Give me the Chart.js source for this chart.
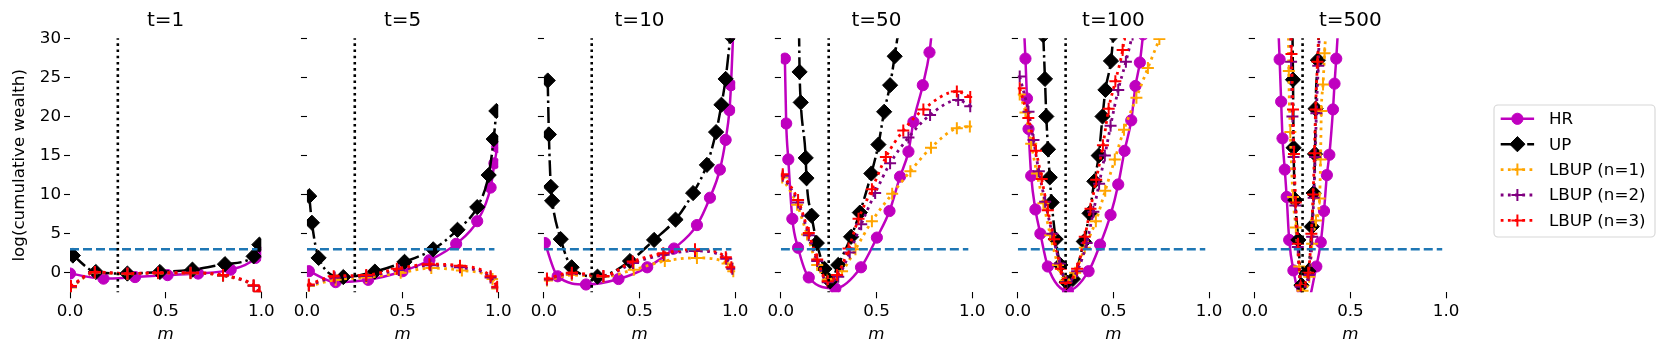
<!DOCTYPE html>
<html>
<head>
<meta charset="utf-8">
<script src="https://cdn.jsdelivr.net/npm/chart.js@4.4.1/dist/chart.umd.min.js"></script>
<style>
  html, body { margin: 0; padding: 0; background: #fff; }
  #wrap { position: relative; width: 1661px; height: 357px; overflow: hidden; }
  #wrap canvas { position: absolute; top: 0; }
</style>
</head>
<body>
<div id="wrap"></div>
<script>
// ---- data: [m, log(cumulative wealth)] ----
const times = [1, 5, 10, 50, 100, 500];
const seriesNames = ['HR', 'UP', 'LBUP (n=1)', 'LBUP (n=2)', 'LBUP (n=3)'];
const xTicks = [0, 0.5, 1];
const xTickLabels = ['0.0', '0.5', '1.0'];
const yTicks = [0, 5, 10, 15, 20, 25, 30];
const baselineM = [0, 0.98];
const baselineValue = 3.0;
const optimalM = 0.25;

const hr_t1 = [[0.0,-0.1],[0.175,-0.75],[0.34,-0.55],[0.51,-0.3],[0.67,-0.1],[0.84,0.4],[0.97,1.9],[0.99,2.6]];
const up_t1 = [[0.015,2.2],[0.135,0.1],[0.30,-0.1],[0.47,0.1],[0.64,0.4],[0.81,1.1],[0.96,2.1],[0.99,3.6]];
const lb1_t1 = [[0.005,-1.9],[0.13,0.0],[0.30,-0.15],[0.46,-0.05],[0.63,-0.05],[0.80,-0.4],[0.96,-1.7],[0.99,-2.5]];
const lb2_t1 = [[0.005,-1.8],[0.13,0.05],[0.30,-0.1],[0.46,0.0],[0.63,0.0],[0.80,-0.35],[0.96,-1.65],[0.99,-2.45]];
const lb3_t1 = [[0.005,-1.7],[0.13,0.1],[0.30,-0.1],[0.46,0.0],[0.63,0.0],[0.80,-0.3],[0.96,-1.6],[0.99,-2.4]];

const hr_t5 = [[0.01,0.2],[0.15,-1.2],[0.32,-0.9],[0.50,0.2],[0.64,1.6],[0.78,3.7],[0.89,6.6],[0.96,10.9],[0.98,14.0],[0.995,16.1]];
const up_t5 = [[0.012,9.8],[0.026,6.4],[0.061,1.9],[0.19,-0.55],[0.355,0.15],[0.51,1.4],[0.66,3.0],[0.787,5.5],[0.89,8.4],[0.95,12.5],[0.976,17.1],[0.99,20.7]];
const lb1_t5 = [[0.01,-1.7],[0.15,-0.9],[0.31,-0.6],[0.49,0.0],[0.65,0.6],[0.81,0.3],[0.97,-0.8],[0.995,-2.0]];
const lb2_t5 = [[0.01,-1.6],[0.145,-0.6],[0.31,-0.4],[0.48,0.35],[0.645,0.95],[0.80,0.7],[0.96,-0.6],[0.995,-1.9]];
const lb3_t5 = [[0.01,-1.5],[0.14,-0.45],[0.31,-0.3],[0.47,0.5],[0.64,1.1],[0.80,0.9],[0.96,-0.45],[0.995,-1.8]];

const hr_t10 = [[0.005,3.8],[0.072,-0.45],[0.22,-1.5],[0.39,-0.8],[0.54,0.7],[0.68,3.1],[0.80,6.1],[0.868,9.6],[0.92,13.2],[0.95,17.0],[0.97,20.8],[0.978,24.0],[0.99,31.0]];
const up_t10 = [[0.02,24.6],[0.026,17.7],[0.036,11.0],[0.043,9.2],[0.088,4.3],[0.145,0.7],[0.28,-0.5],[0.45,1.5],[0.576,4.2],[0.688,6.8],[0.78,10.2],[0.852,13.8],[0.90,18.0],[0.928,21.5],[0.95,24.8],[0.975,30.3]];
const lb1_t10 = [[0.016,-1.0],[0.146,-0.3],[0.311,-0.5],[0.47,0.4],[0.632,1.5],[0.80,1.9],[0.96,1.2],[0.99,0.2]];
const lb2_t10 = [[0.016,-0.85],[0.146,-0.1],[0.311,-0.45],[0.466,1.25],[0.626,2.3],[0.79,2.8],[0.953,1.8],[0.985,0.5]];
const lb3_t10 = [[0.016,-0.75],[0.146,0.0],[0.311,-0.4],[0.464,1.45],[0.624,2.5],[0.79,3.0],[0.951,2.0],[0.98,0.7]];

const hr_t50 = [[0.021,27.4],[0.028,19.1],[0.039,14.5],[0.06,6.9],[0.09,3.2],[0.146,-0.6],[0.285,-2.0],[0.419,0.7],[0.502,4.5],[0.568,7.9],[0.623,12.3],[0.667,15.5],[0.693,19.3],[0.742,24.0],[0.777,28.2],[0.79,31.0]];
const up_t50 = [[0.095,31.0],[0.098,25.7],[0.104,21.8],[0.13,14.7],[0.134,12.1],[0.161,7.3],[0.188,3.8],[0.228,0.5],[0.258,-1.1],[0.30,1.0],[0.367,4.6],[0.413,7.7],[0.473,12.7],[0.51,16.4],[0.54,20.6],[0.571,24.0],[0.595,27.7],[0.615,31.0]];
const lb1_t50 = [[0.007,12.2],[0.085,8.7],[0.137,4.9],[0.19,1.0],[0.245,-0.9],[0.32,0.2],[0.39,3.0],[0.476,6.6],[0.582,10.1],[0.677,13.0],[0.785,16.0],[0.92,18.5],[0.988,18.7]];
const lb2_t50 = [[0.01,12.4],[0.09,9.0],[0.146,4.8],[0.19,1.5],[0.245,-1.2],[0.30,-0.5],[0.36,2.6],[0.42,6.2],[0.493,10.2],[0.571,14.0],[0.667,17.3],[0.78,20.2],[0.927,22.1],[0.99,21.3]];
const lb3_t50 = [[0.01,12.6],[0.09,9.3],[0.146,5.1],[0.19,1.7],[0.245,-1.1],[0.294,-0.3],[0.354,3.1],[0.406,6.9],[0.476,10.7],[0.549,14.8],[0.64,18.2],[0.745,20.9],[0.92,23.2],[0.99,22.5]];

const hr_t100 = [[0.033,31.0],[0.04,27.4],[0.048,22.3],[0.056,18.4],[0.07,12.4],[0.092,8.1],[0.118,5.0],[0.157,0.8],[0.262,-2.3],[0.37,0.2],[0.43,3.6],[0.485,7.4],[0.525,11.3],[0.558,15.6],[0.593,19.5],[0.615,23.9],[0.638,26.9],[0.655,30.5]];
const up_t100 = [[0.133,30.4],[0.142,24.8],[0.149,20.0],[0.158,15.8],[0.167,12.2],[0.177,9.0],[0.198,4.3],[0.222,1.0],[0.255,-1.2],[0.288,-0.8],[0.345,4.0],[0.375,7.6],[0.40,11.7],[0.423,15.0],[0.443,20.0],[0.458,23.4],[0.487,27.1],[0.50,30.5]];
const lb1_t100 = [[0.01,22.8],[0.04,20.5],[0.07,16.5],[0.10,12.7],[0.134,8.9],[0.17,4.8],[0.21,1.0],[0.25,-1.0],[0.30,0.0],[0.35,3.2],[0.408,6.6],[0.457,10.5],[0.507,14.5],[0.555,18.3],[0.62,22.4],[0.68,26.2],[0.74,29.9]];
const lb2_t100 = [[0.01,25.1],[0.056,20.6],[0.082,17.0],[0.11,13.0],[0.143,9.1],[0.18,5.0],[0.22,1.2],[0.255,-1.2],[0.31,0.2],[0.36,3.8],[0.395,7.8],[0.425,11.4],[0.455,15.0],[0.485,18.8],[0.525,23.4],[0.565,27.0],[0.60,30.5]];
const lb3_t100 = [[0.01,23.6],[0.055,19.8],[0.095,15.6],[0.125,12.0],[0.157,8.0],[0.19,4.3],[0.225,0.5],[0.25,-1.3],[0.31,0.5],[0.35,4.6],[0.38,8.2],[0.41,11.9],[0.445,16.3],[0.475,21.0],[0.51,24.5],[0.548,28.5],[0.56,30.5]];

const hr_t500 = [[0.124,31.0],[0.13,27.3],[0.138,21.9],[0.145,17.2],[0.157,13.2],[0.167,9.7],[0.18,4.2],[0.202,0.3],[0.265,-4.5],[0.322,0.8],[0.345,3.9],[0.362,7.9],[0.377,12.5],[0.39,15.1],[0.409,20.9],[0.417,24.2],[0.426,27.4],[0.435,31.0]];
const up_t500 = [[0.197,31.0],[0.2,24.7],[0.203,16.0],[0.212,9.3],[0.228,4.2],[0.244,-1.6],[0.28,0.2],[0.298,5.9],[0.308,10.2],[0.315,15.2],[0.318,21.0],[0.33,27.2],[0.335,31.0]];
const lb1_t500 = [[0.176,31.0],[0.178,25.8],[0.186,18.0],[0.2,9.7],[0.215,5.8],[0.232,0.8],[0.25,-2.3],[0.285,-0.5],[0.30,3.7],[0.32,6.7],[0.339,9.5],[0.344,14.5],[0.348,20.7],[0.357,24.1],[0.365,28.1],[0.372,31.0]];
const lb2_t500 = [[0.188,31.0],[0.19,27.0],[0.197,20.0],[0.203,14.8],[0.212,8.6],[0.225,3.3],[0.24,-1.8],[0.282,-0.3],[0.3,4.6],[0.308,9.6],[0.316,14.8],[0.322,20.4],[0.332,26.5],[0.338,31.0]];
const lb3_t500 = [[0.19,31.0],[0.192,28.0],[0.2,20.9],[0.205,15.2],[0.214,9.0],[0.226,3.7],[0.242,-1.6],[0.28,0.0],[0.296,5.0],[0.305,10.0],[0.312,15.3],[0.318,20.9],[0.328,27.0],[0.335,31.0]];

const panelSeries = [
  [hr_t1, up_t1, lb1_t1, lb2_t1, lb3_t1],
  [hr_t5, up_t5, lb1_t5, lb2_t5, lb3_t5],
  [hr_t10, up_t10, lb1_t10, lb2_t10, lb3_t10],
  [hr_t50, up_t50, lb1_t50, lb2_t50, lb3_t50],
  [hr_t100, up_t100, lb1_t100, lb2_t100, lb3_t100],
  [hr_t500, up_t500, lb1_t500, lb2_t500, lb3_t500],
];

// ---- layout / style ----
const FONT = 'DejaVu Sans';
const FS = 16.7;
const PLOT_LEFT0 = 70;
const PANEL_STEP = 236.95;
const PLOT_W = 191.3;
const PLOT_TOP = 38.3;
const PLOT_BOTTOM = 292.3;
const H = 357;
const Y_MIN = -2.5, Y_MAX = 30;

const SERIES_STYLE = [
  { color: '#bf00bf', width: 2.5, dash: [],                  point: 'circle',  radius: 5.6, pw: 1 },
  { color: '#000000', width: 2.5, dash: [16, 4, 2.5, 4],     point: 'rectRot', radius: 7.6, pw: 1 },
  { color: '#ffa500', width: 2.8, dash: [2.8, 4.4],          point: 'cross',   radius: 6,   pw: 2 },
  { color: '#800080', width: 2.8, dash: [2.8, 4.4],          point: 'cross',   radius: 6,   pw: 2 },
  { color: '#ff0000', width: 2.8, dash: [2.8, 4.4],          point: 'cross',   radius: 6,   pw: 2 },
];

const LEGEND = { x: 1494, y: 105, w: 161, h: 132, row0: 13.8, rowStep: 25.4 };

Chart.defaults.font.family = FONT;
Chart.defaults.font.size = FS;
Chart.defaults.color = '#000';

function drawMarker(ctx, style, x, y) {
  ctx.save();
  ctx.fillStyle = style.color;
  ctx.strokeStyle = style.color;
  ctx.lineWidth = style.pw;
  ctx.setLineDash([]);
  ctx.beginPath();
  const r = style.radius;
  if (style.point === 'circle') {
    ctx.arc(x, y, r, 0, Math.PI * 2);
    ctx.fill(); ctx.stroke();
  } else if (style.point === 'rectRot') {
    ctx.moveTo(x, y - r); ctx.lineTo(x + r, y); ctx.lineTo(x, y + r); ctx.lineTo(x - r, y);
    ctx.closePath();
    ctx.fill(); ctx.stroke();
  } else {
    ctx.moveTo(x - r, y); ctx.lineTo(x + r, y);
    ctx.moveTo(x, y - r); ctx.lineTo(x, y + r);
    ctx.stroke();
  }
  ctx.restore();
}

const sideLegend = {
  id: 'sideLegend',
  afterDraw(chart, args, opts) {
    const ctx = chart.ctx;
    const bx = LEGEND.x - opts.offsetX, by = LEGEND.y;
    ctx.save();
    ctx.beginPath();
    ctx.roundRect(bx, by, LEGEND.w, LEGEND.h, 4);
    ctx.fillStyle = 'rgba(255,255,255,0.8)';
    ctx.fill();
    ctx.strokeStyle = 'rgba(204,204,204,0.8)';
    ctx.lineWidth = 1.1;
    ctx.stroke();
    seriesNames.forEach((name, i) => {
      const st = SERIES_STYLE[i];
      const y = by + LEGEND.row0 + i * LEGEND.rowStep;
      ctx.beginPath();
      ctx.setLineDash(st.dash);
      ctx.lineWidth = st.width;
      ctx.strokeStyle = st.color;
      ctx.moveTo(bx + 6.7, y);
      ctx.lineTo(bx + 40.1, y);
      ctx.stroke();
      drawMarker(ctx, st, bx + 23.4, y);
      ctx.setLineDash([]);
      ctx.fillStyle = '#000';
      ctx.font = 'normal 400 ' + FS + 'px ' + FONT;
      ctx.textBaseline = 'middle';
      ctx.textAlign = 'left';
      ctx.fillText(name, bx + 55, y + 1);
    });
    ctx.restore();
  }
};

const wrap = document.getElementById('wrap');

function makePanel(idx) {
  const x0 = PLOT_LEFT0 + idx * PANEL_STEP;
  const left = idx === 0 ? 0 : Math.floor(x0 - 25);
  const yAxisW = x0 - left;
  const last = idx === times.length - 1;
  const width = last ? 1661 - left : Math.round(yAxisW + PLOT_W + 20);

  const canvas = document.createElement('canvas');
  canvas.width = width;
  canvas.height = H;
  canvas.style.left = left + 'px';
  canvas.style.width = width + 'px';
  canvas.style.height = H + 'px';
  wrap.appendChild(canvas);

  const n = 7;
  const datasets = panelSeries[idx].map((pts, i) => {
    const st = SERIES_STYLE[i];
    return {
      label: seriesNames[i],
      data: pts.map(([m, v]) => ({ x: m, y: v })),
      borderColor: st.color,
      backgroundColor: st.color,
      borderWidth: st.width,
      borderDash: st.dash,
      borderCapStyle: 'butt',
      pointStyle: st.point,
      pointRadius: st.radius,
      pointBackgroundColor: st.color,
      pointBorderColor: st.color,
      pointBorderWidth: st.pw,
      cubicInterpolationMode: 'monotone',
      order: n - i,
      clip: 0,
    };
  });
  datasets.push({
    label: 'baseline',
    data: baselineM.map(m => ({ x: m, y: baselineValue })),
    borderColor: '#1f77b4',
    borderWidth: 2.4,
    borderDash: [9, 4],
    pointRadius: 0,
    order: 2,
    clip: 0,
  });
  datasets.push({
    label: 'optimum',
    data: [{ x: optimalM, y: Y_MIN - 1 }, { x: optimalM, y: Y_MAX + 1 }],
    borderColor: '#000',
    borderWidth: 2.6,
    borderDash: [2.6, 3.6],
    pointRadius: 0,
    order: 1,
    clip: 0,
  });

  new Chart(canvas.getContext('2d'), {
    type: 'line',
    data: { datasets },
    plugins: last ? [sideLegend] : [],
    options: {
      responsive: false,
      animation: false,
      devicePixelRatio: 1,
      events: [],
      elements: { line: { capBezierPoints: false } },
      layout: { padding: { left: 0, top: 0, bottom: 0, right: width - yAxisW - PLOT_W } },
      plugins: {
        legend: { display: false },
        tooltip: { enabled: false },
        title: {
          display: true,
          text: 't=' + times[idx],
          fullSize: false,
          color: '#000',
          font: { family: FONT, size: 20, weight: 'normal' },
          padding: { top: 9, bottom: PLOT_TOP - 9 - 24 },
        },
        sideLegend: { offsetX: left },
      },
      scales: {
        x: {
          type: 'linear',
          min: 0,
          max: 1,
          border: { display: false },
          grid: { display: true, drawOnChartArea: false, drawTicks: true, tickLength: 6, tickColor: '#000', tickWidth: 1.1 },
          ticks: {
            padding: 3,
            color: '#000',
            autoSkip: false,
            maxRotation: 0,
            font: { family: FONT, size: FS },
            callback: (v, i) => xTickLabels[i],
          },
          title: {
            display: true,
            text: 'm',
            color: '#000',
            font: { family: FONT, size: FS, style: 'italic' },
            padding: { top: 0, bottom: 12 },
          },
          afterBuildTicks: s => { s.ticks = xTicks.map(v => ({ value: v })); },
          afterFit: s => { s.height = H - PLOT_BOTTOM; s.paddingLeft = 0; s.paddingRight = 0; },
        },
        y: {
          type: 'linear',
          min: Y_MIN,
          max: Y_MAX,
          border: { display: false },
          grid: { display: true, drawOnChartArea: false, drawTicks: true, tickLength: 6, tickColor: '#000', tickWidth: 1.1 },
          ticks: {
            display: idx === 0,
            padding: 3,
            color: '#000',
            autoSkip: false,
            font: { family: FONT, size: FS },
            callback: v => String(v),
          },
          title: {
            display: idx === 0,
            text: 'log(cumulative wealth)',
            color: '#000',
            font: { family: FONT, size: FS },
            padding: { top: 10, bottom: 0 },
          },
          afterBuildTicks: s => { s.ticks = yTicks.map(v => ({ value: v })); },
          afterFit: s => { s.width = yAxisW; s.paddingTop = 0; s.paddingBottom = 0; },
        },
      },
    },
  });
}

times.forEach((t, i) => makePanel(i));
</script>
</body>
</html>
